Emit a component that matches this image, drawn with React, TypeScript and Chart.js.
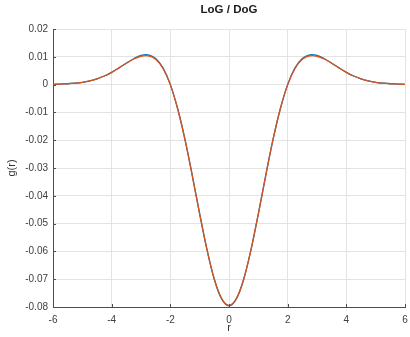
import React, { useEffect, useRef } from "react";
import { Chart, registerables } from "chart.js";

Chart.register(...registerables);

const titleText = "LoG / DoG";
const xLabel = "r";
const yLabel = "g(r)";

const rValues = [
  -6, -5.75, -5.5, -5.25, -5, -4.75, -4.5, -4.25, -4, -3.75, -3.5, -3.25, -3,
  -2.75, -2.5, -2.25, -2, -1.75, -1.5, -1.25, -1, -0.75, -0.5, -0.25, 0,
  0.25, 0.5, 0.75, 1, 1.25, 1.5, 1.75, 2, 2.25, 2.5, 2.75, 3, 3.25, 3.5,
  3.75, 4, 4.25, 4.5, 4.75, 5, 5.25, 5.5, 5.75, 6,
];

const logValues = [
  0.0001, 0.0002, 0.0003, 0.0005, 0.0008, 0.0013, 0.0021, 0.0031, 0.0044,
  0.006, 0.0077, 0.0093, 0.0105, 0.0107, 0.0094, 0.006, 0.0, -0.0087,
  -0.0198, -0.0328, -0.0465, -0.0594, -0.0701, -0.0771, -0.0796,
  -0.0771, -0.0701, -0.0594, -0.0465, -0.0328, -0.0198, -0.0087, 0.0,
  0.006, 0.0094, 0.0107, 0.0105, 0.0093, 0.0077, 0.006, 0.0044, 0.0031,
  0.0021, 0.0013, 0.0008, 0.0005, 0.0003, 0.0002, 0.0001,
];

const dogValues = [
  0.0001, 0.0002, 0.0003, 0.0005, 0.0008, 0.0013, 0.0021, 0.0031, 0.0044,
  0.006, 0.0077, 0.0092, 0.0102, 0.0103, 0.0091, 0.0058, 0.0, -0.0087,
  -0.0198, -0.0328, -0.0465, -0.0594, -0.07, -0.077, -0.0794,
  -0.077, -0.07, -0.0594, -0.0465, -0.0328, -0.0198, -0.0087, 0.0,
  0.0058, 0.0091, 0.0103, 0.0102, 0.0092, 0.0077, 0.006, 0.0044, 0.0031,
  0.0021, 0.0013, 0.0008, 0.0005, 0.0003, 0.0002, 0.0001,
];

const xTicks = [-6, -4, -2, 0, 2, 4, 6];
const yTicks = [0.02, 0.01, 0, -0.01, -0.02, -0.03, -0.04, -0.05, -0.06, -0.07, -0.08];

const FONT = '"Liberation Sans", Arial, Helvetica, sans-serif';

const decor = {
  id: "decor",
  afterDraw(chart: any) {
    const { ctx, chartArea } = chart;
    const { left, right, top, bottom } = chartArea;
    const x = chart.scales.x;
    const y = chart.scales.y;
    ctx.save();
    ctx.strokeStyle = "#4d4d4d";
    ctx.lineWidth = 1;
    ctx.beginPath();
    for (const t of xTicks) {
      const px = Math.round(x.getPixelForValue(t)) + 0.5;
      ctx.moveTo(px, bottom);
      ctx.lineTo(px, bottom - 3);
    }
    for (const t of yTicks) {
      const py = Math.round(y.getPixelForValue(t)) + 0.5;
      ctx.moveTo(left, py);
      ctx.lineTo(left + 3, py);
    }
    ctx.stroke();
    ctx.textAlign = "center";
    ctx.textBaseline = "middle";
    ctx.fillStyle = "#1a1a1a";
    ctx.font = "bold 11.5px " + FONT;
    ctx.fillText(titleText, (left + right) / 2, 10);
    ctx.fillStyle = "#333333";
    ctx.font = "11px " + FONT;
    ctx.fillText(xLabel, (left + right) / 2, 328);
    ctx.translate(12, (top + bottom) / 2);
    ctx.rotate(-Math.PI / 2);
    ctx.fillText(yLabel, 0, 0);
    ctx.restore();
  },
};

export default function App() {
  const ref = useRef<HTMLCanvasElement | null>(null);
  useEffect(() => {
    if (!ref.current) return;
    const chart = new Chart(ref.current, {
      type: "line",
      data: {
        datasets: [
          {
            label: "LoG",
            data: rValues.map((r, i) => ({ x: r, y: logValues[i] })),
            borderColor: "#0072BD",
            borderWidth: 1.3,
            pointRadius: 0,
            tension: 0.35,
            fill: false,
            order: 2,
          },
          {
            label: "DoG",
            data: rValues.map((r, i) => ({ x: r, y: dogValues[i] })),
            borderColor: "#D95319",
            borderWidth: 1.3,
            pointRadius: 0,
            tension: 0.35,
            fill: false,
            order: 1,
          },
        ],
      },
      options: {
        animation: false,
        responsive: false,
        devicePixelRatio: 1,
        layout: { padding: { top: 29, right: 5, left: 0, bottom: 0 } },
        plugins: {
          legend: { display: false },
          tooltip: { enabled: false },
          title: { display: false },
        },
        scales: {
          x: {
            type: "linear",
            min: -6,
            max: 6,
            afterFit: (s: any) => {
              s.height = 30;
              s.paddingRight = 0;
              s.paddingLeft = 0;
            },
            afterBuildTicks: (s: any) => {
              s.ticks = xTicks.map((v) => ({ value: v }));
            },
            ticks: {
              padding: 7,
              color: "#404040",
              font: { family: FONT, size: 10 },
              maxRotation: 0,
              callback: (v: any) => String(v),
            },
            grid: { color: "#e3e3e3", drawTicks: false },
            border: { color: "#4d4d4d", width: 1 },
          },
          y: {
            type: "linear",
            min: -0.08,
            max: 0.02,
            afterFit: (s: any) => {
              s.width = 53;
              s.paddingTop = 0;
              s.paddingBottom = 0;
            },
            afterBuildTicks: (s: any) => {
              s.ticks = yTicks.map((v) => ({ value: v }));
            },
            ticks: {
              padding: 5,
              color: "#404040",
              font: { family: FONT, size: 10 },
              callback: (v: any) => {
                const r = Math.round(Number(v) * 100) / 100;
                return r === 0 ? "0" : r.toFixed(2);
              },
            },
            grid: { color: "#e3e3e3", drawTicks: false },
            border: { color: "#4d4d4d", width: 1 },
          },
        },
      },
      plugins: [decor],
    });
    return () => chart.destroy();
  }, []);
  return (
    <div style={{ position: "fixed", left: 0, top: 0, width: 410, height: 337, background: "#fff" }}>
      <canvas ref={ref} width={410} height={337} style={{ display: "block" }} />
    </div>
  );
}
